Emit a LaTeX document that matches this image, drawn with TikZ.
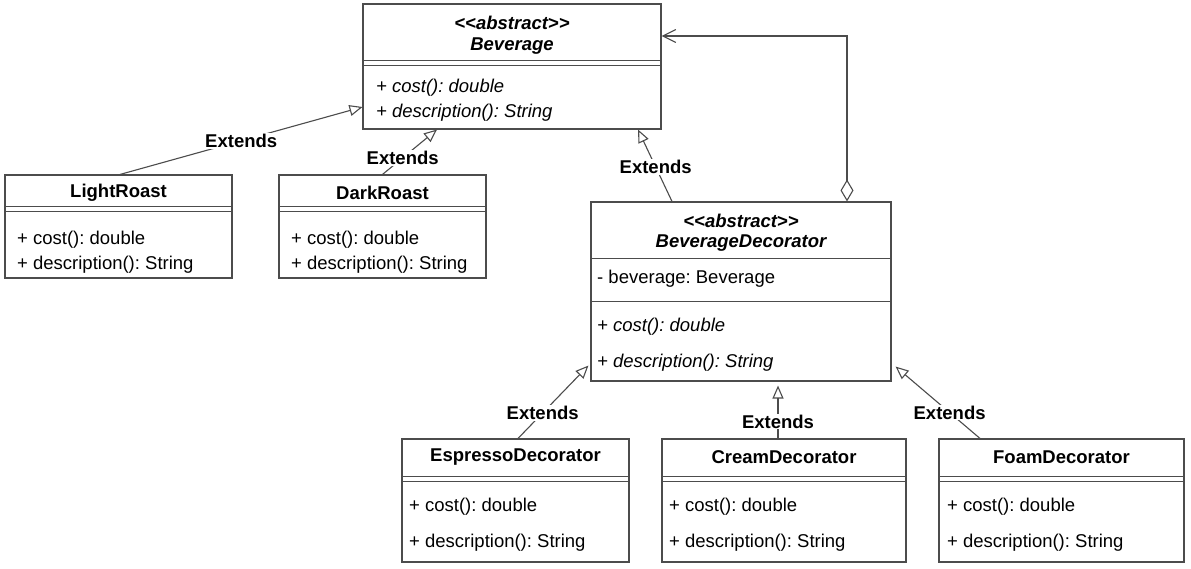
\documentclass[tikz,border=0pt]{standalone}
\usepackage{fontspec}
\setmainfont{Liberation Sans}
\usetikzlibrary{arrows.meta}
\frenchspacing

\tikzset{
    classbox/.style={draw=black!70, line width=1.1pt, fill=white, inner sep=0pt},
    member/.style={anchor=west, inner sep=0pt, font=\fontsize{18.5}{21}\selectfont},
    ctitle/.style={inner sep=0pt, font=\fontsize{18.5}{21}\selectfont\bfseries},
    sepline/.style={draw=black!70, line width=1.1pt},
    extends/.style={draw=black!70, line width=1.1pt, -{Triangle[open,length=13pt,width=11pt]}},
    aggr/.style={draw=black!70, line width=1.1pt, {Diamond[open,length=22pt,width=13pt]}-{Straight Barb[length=13pt,width=13pt]}},
    lbl/.style={fill=white, inner sep=1pt, font=\fontsize{18.5}{21}\selectfont\bfseries},
}

\begin{document}
\begin{tikzpicture}[x=1pt,y=-1pt]
    \useasboundingbox[fill=white] (0,0) rectangle (1191,569);

    % abstract component
    \node[classbox, minimum width=298pt, minimum height=125pt] (bev) at (512,66.5) {};
    \node[ctitle, font=\fontsize{18.5}{21}\selectfont\bfseries\itshape] (bevst) at (512,23) {<{}<abstract>{}>};
    \node[ctitle, font=\fontsize{18.5}{21}\selectfont\bfseries\itshape] (bevname) at (512,46) {Beverage};
    \draw[sepline] ([yshift=-57pt]bev.north west) -- ([yshift=-57pt]bev.north east);
    \draw[sepline] ([yshift=-62pt]bev.north west) -- ([yshift=-62pt]bev.north east);
    \node[member, font=\fontsize{18.5}{21}\selectfont\itshape] (bevcost) at (376,88) {+ cost(): double};
    \node[member, font=\fontsize{18.5}{21}\selectfont\itshape] (bevdesc) at (376,113) {+ description(): String};

    % concrete components
    \node[classbox, minimum width=227pt, minimum height=103pt] (light) at (118.5,226.5) {};
    \node[ctitle] (lightname) at (118.5,193) {LightRoast};
    \draw[sepline] ([yshift=-32pt]light.north west) -- ([yshift=-32pt]light.north east);
    \draw[sepline] ([yshift=-37pt]light.north west) -- ([yshift=-37pt]light.north east);
    \node[member] (lightcost) at (17,240) {+ cost(): double};
    \node[member] (lightdesc) at (17,265) {+ description(): String};

    \node[classbox, minimum width=207pt, minimum height=103pt] (dark) at (382.5,226.5) {};
    \node[ctitle] (darkname) at (382.5,193) {DarkRoast};
    \draw[sepline] ([yshift=-32pt]dark.north west) -- ([yshift=-32pt]dark.north east);
    \draw[sepline] ([yshift=-37pt]dark.north west) -- ([yshift=-37pt]dark.north east);
    \node[member] (darkcost) at (291,240) {+ cost(): double};
    \node[member] (darkdesc) at (291,265) {+ description(): String};

    % abstract decorator
    \node[classbox, minimum width=300pt, minimum height=179pt] (bd) at (741,291.5) {};
    \node[ctitle, font=\fontsize{18.5}{21}\selectfont\bfseries\itshape] (bdst) at (741,221) {<{}<abstract>{}>};
    \node[ctitle, font=\fontsize{18.5}{21}\selectfont\bfseries\itshape] (bdname) at (741,243) {BeverageDecorator};
    \draw[sepline] ([yshift=-57pt]bd.north west) -- ([yshift=-57pt]bd.north east);
    \node[member] (bdattr) at (597,279) {- beverage: Beverage};
    \draw[sepline] ([yshift=-100pt]bd.north west) -- ([yshift=-100pt]bd.north east);
    \node[member, font=\fontsize{18.5}{21}\selectfont\itshape] (bdcost) at (597,327) {+ cost(): double};
    \node[member, font=\fontsize{18.5}{21}\selectfont\itshape] (bddesc) at (597,363) {+ description(): String};

    % concrete decorators
    \node[classbox, minimum width=227pt, minimum height=123pt] (esp) at (515.5,500.5) {};
    \node[ctitle] (espname) at (515.5,457) {EspressoDecorator};
    \draw[sepline] ([yshift=-38pt]esp.north west) -- ([yshift=-38pt]esp.north east);
    \draw[sepline] ([yshift=-43pt]esp.north west) -- ([yshift=-43pt]esp.north east);
    \node[member] (espcost) at (409,507) {+ cost(): double};
    \node[member] (espdesc) at (409,543) {+ description(): String};

    \node[classbox, minimum width=244pt, minimum height=123pt] (cream) at (784,500.5) {};
    \node[ctitle] (creamname) at (784,457) {CreamDecorator};
    \draw[sepline] ([yshift=-38pt]cream.north west) -- ([yshift=-38pt]cream.north east);
    \draw[sepline] ([yshift=-43pt]cream.north west) -- ([yshift=-43pt]cream.north east);
    \node[member] (creamcost) at (669,507) {+ cost(): double};
    \node[member] (creamdesc) at (669,543) {+ description(): String};

    \node[classbox, minimum width=245pt, minimum height=123pt] (foam) at (1061.5,500.5) {};
    \node[ctitle] (foamname) at (1061.5,457) {FoamDecorator};
    \draw[sepline] ([yshift=-38pt]foam.north west) -- ([yshift=-38pt]foam.north east);
    \draw[sepline] ([yshift=-43pt]foam.north west) -- ([yshift=-43pt]foam.north east);
    \node[member] (foamcost) at (947,507) {+ cost(): double};
    \node[member] (foamdesc) at (947,543) {+ description(): String};

    % relations
    \draw[extends] ([xshift=1.5pt]light.north) -- node[lbl, pos=0.5] {Extends} ([yshift=-40.5pt]bev.west);
    \draw[extends] (dark.north) -- node[lbl, pos=0.37] {Extends} ([xshift=-75pt]bev.south);
    \draw[extends] ([xshift=-69pt]bd.north) -- node[lbl, pos=0.48] {Extends} ([xshift=126pt]bev.south);
    \draw[aggr] ([xshift=106pt]bd.north) |- ([yshift=30.5pt]bev.east);
    \draw[extends] ([xshift=2.5pt]esp.north) -- node[lbl, pos=0.35] {Extends} ([shift={(-2pt,16pt)}]bd.south west);
    \draw[extends] ([xshift=-6pt]cream.north) -- node[lbl, pos=0.32] {Extends} ([shift={(37pt,-4pt)}]bd.south);
    \draw[extends] ([xshift=-81.5pt]foam.north) -- node[lbl, pos=0.36] {Extends} ([shift={(4pt,15pt)}]bd.south east);
\end{tikzpicture}
\end{document}
